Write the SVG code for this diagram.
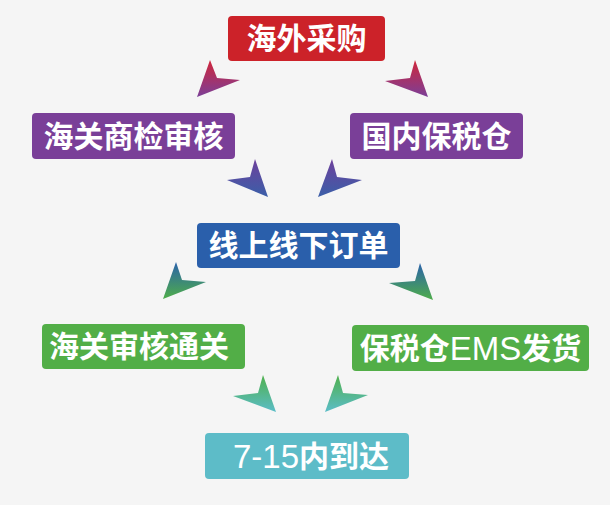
<svg xmlns="http://www.w3.org/2000/svg" width="610" height="505" viewBox="0 0 610 505">
<style>
.lbl{font-family:"Liberation Sans","Noto Sans CJK SC",sans-serif;font-weight:bold;font-size:30px;fill:#ffffff;text-anchor:middle;dominant-baseline:central}
.lat{font-weight:normal;font-size:33px}
</style>
<defs>
<linearGradient id="g1" x1="0" y1="0" x2="0" y2="1"><stop offset="0" stop-color="#d0263a"/><stop offset="1" stop-color="#7b3f98"/></linearGradient>
<linearGradient id="g2" x1="0" y1="0" x2="0" y2="1"><stop offset="0" stop-color="#6e409c"/><stop offset="1" stop-color="#3a5fa8"/></linearGradient>
<linearGradient id="g3" x1="0" y1="0" x2="0" y2="1"><stop offset="0" stop-color="#2a62aa"/><stop offset="1" stop-color="#4fad4a"/></linearGradient>
<linearGradient id="g4" x1="0" y1="0" x2="0" y2="1"><stop offset="0" stop-color="#4fb04c"/><stop offset="1" stop-color="#5bbdc8"/></linearGradient>
</defs>
<rect width="610" height="505" fill="#f5f5f5"/>
<g id="connectors">
<polygon points="210,60 217,78 240,80 197,97" fill="url(#g1)"/>
<polygon points="415,60 410,78 385,81 428,97" fill="url(#g1)"/>
<polygon points="255,159 250,177 227,180 268,197" fill="url(#g2)"/>
<polygon points="332,159 337,177 362,180 318,197" fill="url(#g2)"/>
<polygon points="176,262 182,280 206,282 163,299" fill="url(#g3)"/>
<polygon points="420,263 415,281 389,283 433,300" fill="url(#g3)"/>
<polygon points="263,375 258,393 233,396 276,412" fill="url(#g4)"/>
<polygon points="338,375 343,393 368,395 325,412" fill="url(#g4)"/>
</g>
<g id="n1"><rect x="228" y="16" width="157" height="45" rx="4" fill="#cc2229"/><text class="lbl" x="306.5" y="38.5">海外采购</text></g>
<g id="n2"><rect x="32" y="113" width="203" height="46" rx="4" fill="#7a3f98"/><text class="lbl" x="133.5" y="136">海关商检审核</text></g>
<g id="n3"><rect x="350" y="113" width="173" height="46" rx="4" fill="#7a3f98"/><text class="lbl" x="436.5" y="136">国内保税仓</text></g>
<g id="n4"><rect x="197" y="223" width="203" height="45" rx="4" fill="#2a5fab"/><text class="lbl" x="298.5" y="245.5">线上线下订单</text></g>
<g id="n5"><rect x="42" y="324" width="203" height="45" rx="4" fill="#52ae47"/><text class="lbl" x="139" y="346.5">海关审核通关</text></g>
<g id="n6"><rect x="352" y="325" width="237" height="46" rx="4" fill="#52ae47"/><text class="lbl" x="470.5" y="348">保税仓<tspan class="lat">EMS</tspan>发货</text></g>
<g id="n7"><rect x="205" y="433" width="204" height="46" rx="4" fill="#5dbcc8"/><text class="lbl" x="311" y="456"><tspan class="lat">7-15</tspan>内到达</text></g>
</svg>
